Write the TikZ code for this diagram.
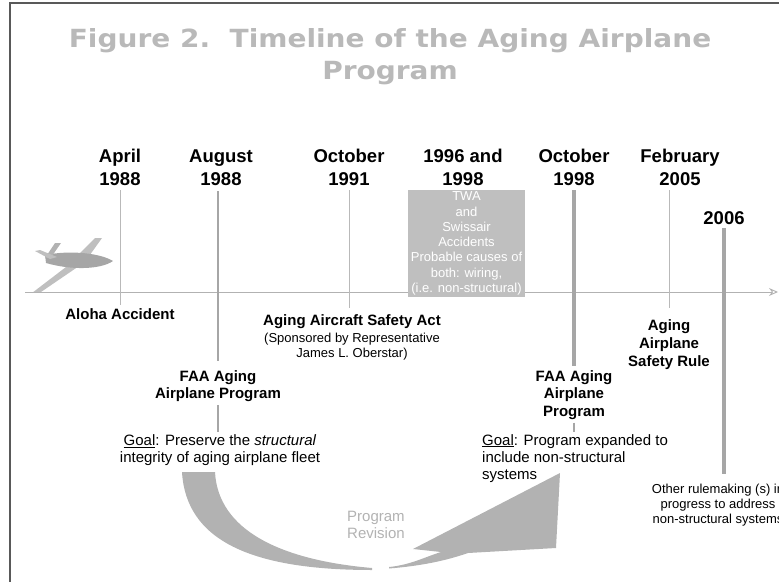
\documentclass[tikz,border=0pt]{standalone}
\usepackage{fontspec}
\setmainfont{Liberation Sans}
\newfontfamily\titlefont[FakeStretch=1.12]{DejaVu Sans}
\usetikzlibrary{arrows.meta}

\tikzset{
	titlelabel/.style={font=\titlefont\fontsize{25}{32}\selectfont\bfseries, text=gray!55, align=center, inner sep=0pt},
	datelabel/.style={font=\fontsize{18.5}{23}\selectfont\bfseries, align=center, inner sep=0pt},
	eventlabel/.style={font=\fontsize{15}{17.5}\selectfont\bfseries, align=center, inner sep=0pt},
	notelabel/.style={font=\fontsize{15}{17}\selectfont, inner sep=0pt},
	smalllabel/.style={font=\fontsize{13}{15}\selectfont, align=center, inner sep=0pt},
	accbox/.style={fill=gray!50, text=white, font=\fontsize{13}{15.3}\selectfont, align=center,
		minimum width=117pt, minimum height=107pt, inner sep=0pt},
	faintline/.style={draw=gray!55, line width=0.8pt},
	midline/.style={draw=gray!70, line width=2.2pt},
	thickline/.style={draw=gray!70, line width=4pt},
	timeline/.style={draw=gray!60, line width=0.9pt, -{Stealth[open, length=9pt, width=8pt]}},
	revarrow/.style={fill=gray!60},
}

\begin{document}
\begin{tikzpicture}[x=1pt, y=-1pt]
	\useasboundingbox (0,0) rectangle (779,581);
	\clip (0,0) rectangle (779,581);
	\draw[gray!70!black, line width=1.2pt] (10,3) rectangle (800,600);

	\node[titlelabel] (title) at (390,57) {Figure 2.\ \ Timeline of the Aging Airplane\\Program};

	\node[datelabel] (apr)   at (120,167) {April\\1988};
	\node[datelabel] (aug)   at (221,168) {August\\1988};
	\node[datelabel] (oct91) at (349,167) {October\\1991};
	\node[datelabel] (yr96)  at (463,167) {1996 and\\1998};
	\node[datelabel] (oct98) at (574,167) {October\\1998};
	\node[datelabel] (feb05) at (680,167) {February\\2005};
	\node[datelabel] (yr06)  at (724,218) {2006};

	% plane
	\fill[gray!50] (66,267) -- (82,264) -- (41,292) -- (32,293) -- cycle;
	\fill[gray!50] (74,259) -- (87,259) -- (102,238) -- (95,238) -- cycle;
	\fill[gray!70] (45,255) .. controls (70,250) and (100,253) .. (113,261) .. controls (100,270) and (70,270) .. (46,263) -- cycle;
	\fill[gray!60] (45,258) -- (52,256) -- (61,243) -- (55,243) -- cycle;
	\fill[gray!50] (50,259) -- (35,251) -- (40,250) -- (57,257) -- cycle;

	\coordinate (tlStart) at (25,292);
	\coordinate (tlEnd) at (778,292);
	\coordinate (aprFoot) at (120,305);
	\draw[timeline] (tlStart) -- (tlEnd);

	\node[accbox] (acc) at (466.5,243.5) {TWA\\and\\Swissair\\Accidents\\Probable causes of\\both: wiring,\\(i.e. non-structural)};

	\node[eventlabel] (aloha) at (120,314) {Aloha Accident};
	\node[eventlabel] (act)   at (352,322) {Aging Aircraft Safety Act};
	\node[smalllabel] (spons) at (352,347) {(Sponsored by Representative\\James L. Oberstar)};
	\node[eventlabel] (faa1)  at (218,386) {FAA Aging\\Airplane Program};
	\node[notelabel, align=center] (goal1) at (220,450) {\underline{Goal}: Preserve the \textit{structural}\\integrity of aging airplane fleet};
	\node[eventlabel] (faa2)  at (574,395) {FAA Aging\\Airplane\\Program};
	\node[notelabel, align=left, anchor=north west] (goal2) at (482,434) {\underline{Goal}: Program expanded to\\include non-structural\\systems};
	\node[eventlabel, font=\fontsize{15}{18}\selectfont\bfseries] (rule) at (669,345) {Aging\\Airplane\\Safety Rule};
	\node[smalllabel] (other) at (718,505) {Other rulemaking (s) in\\progress to address\\non-structural systems};
	\node[notelabel, align=left, anchor=north west, text=gray!60] (rev) at (347,511) {Program\\Revision};

	\draw[faintline, shorten <=5pt] (apr.south) -- (aprFoot);
	\draw[midline, shorten <=5pt, shorten >=9pt] (faa1 |- aug.south) -- (faa1.north);
	\draw[midline, line width=1.5pt, shorten <=3pt, shorten >=2pt] (faa1.south) -- (faa1 |- goal1.north);
	\draw[faintline, shorten <=5pt, shorten >=7pt] (oct91.south) -- (oct91 |- act.north);
	\draw[thickline, shorten <=5pt, shorten >=4pt] (oct98.south) -- (faa2.north);
	\draw[midline, line width=1.5pt, shorten <=3pt, shorten >=2pt] (faa2.south) -- (faa2 |- goal2.north);
	\draw[faintline, shorten <=5pt, shorten >=12pt] (rule |- feb05.south) -- (rule.north);
	\draw[thickline, shorten <=3pt, shorten >=10pt] (yr06.south) -- (yr06 |- other.north);

	% program revision arrow
	\fill[revarrow] (182,472) .. controls (186,540) and (250,570) .. (372,570) -- (372,568) .. controls (280,560) and (218,530) .. (215,472) -- cycle;
	\fill[revarrow] (389,568.5) .. controls (420,566) and (445,561) .. (468,553) -- (556,548) -- (560,473) -- (413,549) -- (441,552) .. controls (425,557) and (410,565) .. (389,567) -- cycle;
\end{tikzpicture}
\end{document}
